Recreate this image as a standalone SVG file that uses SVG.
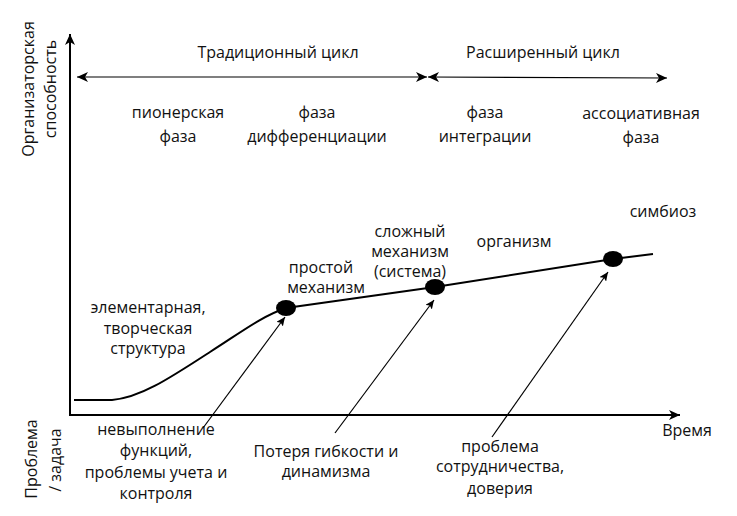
<svg xmlns="http://www.w3.org/2000/svg" width="737" height="516" viewBox="0 0 737 516">
<defs>
<marker id="ah" markerWidth="12" markerHeight="10" refX="11" refY="5" orient="auto" markerUnits="userSpaceOnUse"><path d="M0,0 L11,5 L0,10 L3,5 Z" fill="#000"/></marker>
<marker id="ahs" markerWidth="12" markerHeight="10" refX="11" refY="5" orient="auto-start-reverse" markerUnits="userSpaceOnUse"><path d="M0,0 L11,5 L0,10 L3,5 Z" fill="#000"/></marker>
<marker id="as" markerWidth="10" markerHeight="8" refX="9" refY="4" orient="auto" markerUnits="userSpaceOnUse"><path d="M0,0 L9,4 L0,8 L2,4 Z" fill="#000"/></marker>
</defs>
<style>
text{font-family:"Open Sans","Liberation Sans",sans-serif;font-size:16px;fill:#111;text-anchor:middle}
.ax{stroke:#000;stroke-width:2;fill:none}
.ln{stroke:#000;stroke-width:1.2;fill:none}
.cv{stroke:#000;stroke-width:2;fill:none}
</style>
<rect width="737" height="516" fill="#fff"/>
<g id="connectors">
<line class="ax" x1="70" y1="416" x2="70" y2="34" marker-end="url(#ah)"/>
<line class="ax" x1="70" y1="415" x2="680" y2="415" marker-end="url(#ah)"/>
<line class="ln" x1="77" y1="77" x2="427" y2="77" marker-start="url(#ahs)" marker-end="url(#ahs)"/>
<line class="ln" x1="428" y1="77" x2="667" y2="78" marker-start="url(#ahs)" marker-end="url(#ahs)"/>
<path class="cv" d="M74,400 L112,400 C140,398 170,378 210,352 C240,333 262,316 286,308 L435,287 L613,259 L653,254"/>
<line class="ln" x1="203" y1="428" x2="285" y2="317" marker-end="url(#as)"/>
<line class="ln" x1="335" y1="433" x2="434" y2="300" marker-end="url(#as)"/>
<line class="ln" x1="492" y1="437" x2="608" y2="272" marker-end="url(#as)"/>
</g>
<g id="dot1"><ellipse cx="286" cy="308" rx="10" ry="8" fill="#000"/></g>
<g id="dot2"><ellipse cx="435" cy="287" rx="10" ry="8" fill="#000"/></g>
<g id="dot3"><ellipse cx="613" cy="259" rx="10" ry="8" fill="#000"/></g>
<g id="labels">
<text x="278" y="58">Традиционный цикл</text>
<text x="543" y="58">Расширенный цикл</text>
<text x="178" y="118">пионерская</text>
<text x="178" y="142">фаза</text>
<text x="317" y="118">фаза</text>
<text x="317" y="142">дифференциации</text>
<text x="485" y="118">фаза</text>
<text x="485" y="142">интеграции</text>
<text x="641" y="119">ассоциативная</text>
<text x="641" y="143">фаза</text>
<text transform="translate(34,89) rotate(-90)">Организаторская</text>
<text transform="translate(56,89) rotate(-90)">способность</text>
<text transform="translate(37,459) rotate(-90)">Проблема</text>
<text transform="translate(61,460) rotate(-90)">/ задача</text>
<text x="148" y="313">элементарная,</text>
<text x="148" y="334">творческая</text>
<text x="148" y="354">структура</text>
<text x="321" y="273">простой</text>
<text x="326" y="293">механизм</text>
<text x="410" y="237">сложный</text>
<text x="410" y="257">механизм</text>
<text x="410" y="277">(система)</text>
<text x="514" y="247">организм</text>
<text x="663" y="217">симбиоз</text>
<text x="156" y="435">невыполнение</text>
<text x="156" y="456">функций,</text>
<text x="156" y="478">проблемы учета и</text>
<text x="156" y="499">контроля</text>
<text x="326" y="457">Потеря гибкости и</text>
<text x="326" y="477">динамизма</text>
<text x="500" y="452">проблема</text>
<text x="500" y="472">сотрудничества,</text>
<text x="500" y="494">доверия</text>
<text x="687" y="436">Время</text>
</g>
</svg>
